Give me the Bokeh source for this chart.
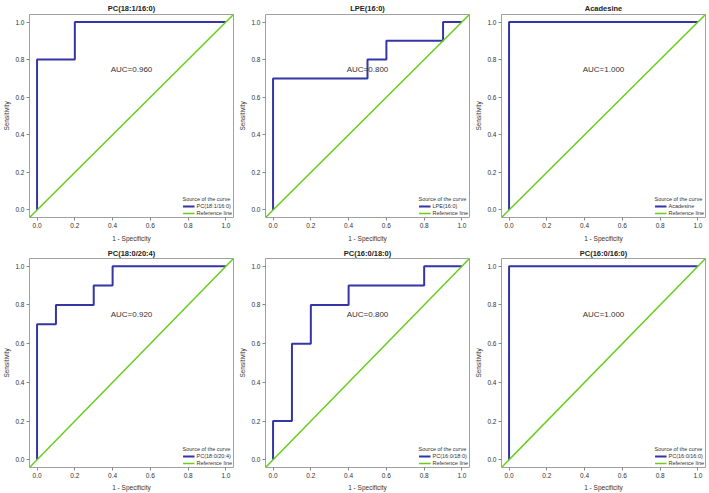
from bokeh.plotting import figure
from bokeh.layouts import gridplot
from bokeh.models import Range1d, FixedTicker, PrintfTickFormatter, Legend, LegendItem, Label
from bokeh.embed import file_html
from bokeh.resources import INLINE

titles = ["PC(18:1/16:0)", "LPE(16:0)", "Acadesine", "PC(18:0/20:4)", "PC(16:0/18:0)", "PC(16:0/16:0)"]
auc_labels = ["AUC=0.960", "AUC=0.800", "AUC=1.000", "AUC=0.920", "AUC=0.800", "AUC=1.000"]

fpr_pc181_160 = [0.0, 0.0, 0.2, 0.2, 1.0]
tpr_pc181_160 = [0.0, 0.8, 0.8, 1.0, 1.0]
fpr_lpe160 = [0.0, 0.0, 0.5, 0.5, 0.6, 0.6, 0.9, 0.9, 1.0]
tpr_lpe160 = [0.0, 0.7, 0.7, 0.8, 0.8, 0.9, 0.9, 1.0, 1.0]
fpr_acadesine = [0.0, 0.0, 1.0]
tpr_acadesine = [0.0, 1.0, 1.0]
fpr_pc180_204 = [0.0, 0.0, 0.1, 0.1, 0.3, 0.3, 0.4, 0.4, 1.0]
tpr_pc180_204 = [0.0, 0.7, 0.7, 0.8, 0.8, 0.9, 0.9, 1.0, 1.0]
fpr_pc160_180 = [0.0, 0.0, 0.1, 0.1, 0.2, 0.2, 0.4, 0.4, 0.8, 0.8, 1.0]
tpr_pc160_180 = [0.0, 0.2, 0.2, 0.6, 0.6, 0.8, 0.8, 0.9, 0.9, 1.0, 1.0]
fpr_pc160_160 = [0.0, 0.0, 1.0]
tpr_pc160_160 = [0.0, 1.0, 1.0]

ref_line = [-0.04, 1.04]
ticks = [0.0, 0.2, 0.4, 0.6, 0.8, 1.0]

curves = [
    (fpr_pc181_160, tpr_pc181_160),
    (fpr_lpe160, tpr_lpe160),
    (fpr_acadesine, tpr_acadesine),
    (fpr_pc180_204, tpr_pc180_204),
    (fpr_pc160_180, tpr_pc160_180),
    (fpr_pc160_160, tpr_pc160_160),
]

BLUE = "#3535a5"
GREEN = "#66cc1a"
FONT = "Liberation Sans"

figs = []
for i, (title, auc, (fx, ty)) in enumerate(zip(titles, auc_labels, curves)):
    top_row = i < 3
    p = figure(width=236, height=245 if top_row else 248, output_backend="svg", toolbar_location=None,
               x_range=Range1d(-0.04, 1.04), y_range=Range1d(-0.04, 1.04),
               min_border_left=28, min_border_right=3,
               min_border_top=12 if top_row else 10,
               min_border_bottom=28 if top_row else 26)
    p.title.text = title
    p.title.align = "center"
    p.title.text_font = FONT
    p.title.text_font_size = "7.5px"
    p.title.text_font_style = "bold"
    p.title.text_color = "#222222"
    p.title.standoff = 3 if top_row else 2
    p.grid.visible = False
    p.outline_line_color = "#a0a0a0"
    p.outline_line_width = 1
    for ax in (p.xaxis[0], p.yaxis[0]):
        ax.ticker = FixedTicker(ticks=ticks)
        ax.formatter = PrintfTickFormatter(format="%.1f")
        ax.axis_line_color = None
        ax.major_tick_line_color = "#888888"
        ax.major_tick_out = 3
        ax.major_tick_in = 0
        ax.minor_tick_line_color = None
        ax.major_label_text_font = FONT
        ax.major_label_text_font_size = "6.5px"
        ax.major_label_text_color = "#333333"
        ax.major_label_standoff = 2
        ax.axis_label_text_font = FONT
        ax.axis_label_text_font_size = "6.5px"
        ax.axis_label_text_font_style = "normal"
        ax.axis_label_text_color = "#333333"
    p.xaxis.axis_label = "1 - Specificity"
    p.xaxis.axis_label_standoff = 4 if top_row else 3
    p.yaxis.axis_label = "Sensitivity"
    p.yaxis.axis_label_standoff = 2
    p.yaxis.major_label_orientation = "horizontal"

    r_curve = p.line(fx, ty, line_color=BLUE, line_width=2)
    r_ref = p.line(ref_line, ref_line, line_color=GREEN, line_width=1.5)

    p.add_layout(Label(x=0.5, y=0.75, text=auc, text_align="center", text_baseline="middle",
                       text_font=FONT, text_font_size="8px", text_color="#333333"))

    legend = Legend(items=[LegendItem(label=title, renderers=[r_curve]),
                           LegendItem(label="Reference line", renderers=[r_ref])],
                    location="bottom_right", title="Source of the curve")
    legend.title_text_font = FONT
    legend.title_text_font_size = "5.5px"
    legend.title_text_font_style = "normal"
    legend.title_text_color = "#333333"
    legend.title_standoff = 1
    legend.label_text_font = FONT
    legend.label_text_font_size = "5.5px"
    legend.label_text_color = "#333333"
    legend.label_height = 6
    legend.label_standoff = 2
    legend.glyph_height = 6
    legend.glyph_width = 12
    legend.spacing = 1
    legend.padding = 2
    legend.margin = 1
    legend.border_line_color = None
    legend.background_fill_alpha = 0
    p.add_layout(legend)
    figs.append(p)

grid = gridplot(figs, ncols=3, toolbar_location=None)
p = grid
open("out.html", "w").write(file_html(p, INLINE))
